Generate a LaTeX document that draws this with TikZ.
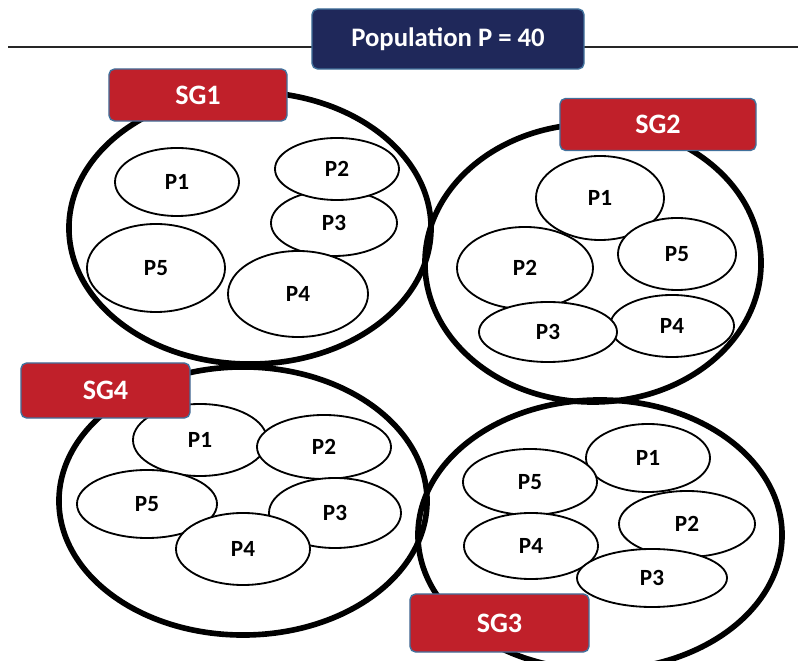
\documentclass[tikz,border=0pt]{standalone}
\usepackage{fontspec}
\setmainfont{Carlito}
\usepackage{tikz}
\usetikzlibrary{shapes.geometric, positioning}
\definecolor{SGRed}{HTML}{C0202A}
\definecolor{PopNavy}{HTML}{1F285A}
\definecolor{EdgeBlue}{HTML}{41719C}
\tikzset{
    popbox/.style={rectangle, rounded corners=4pt, draw=EdgeBlue, fill=PopNavy, line width=1pt,
        minimum width=6.8cm, minimum height=1.5cm, text=white, font=\fontsize{19}{22}\selectfont\bfseries},
    sgbox/.style={rectangle, rounded corners=4pt, draw=EdgeBlue, fill=SGRed, line width=1pt,
        minimum height=1.3cm, text=white, font=\fontsize{20}{24}\selectfont\bfseries},
    sgring/.style={ellipse, draw=black, line width=4pt, inner sep=0pt},
    pers/.style={ellipse, draw=black, fill=white, line width=1.3pt, inner sep=0pt,
        font=\fontsize{16.5}{19}\selectfont\bfseries},
    baseline/.style={line width=1.6pt, black!85},
}

\begin{document}
\begin{tikzpicture}[x=0.025cm, y=-0.025cm]
    \useasboundingbox (0,0) rectangle (798,661);
    \coordinate (linel) at (8,47);
    \coordinate (liner) at (798,47);
    \draw[baseline] (linel) -- (liner);

    \node[sgring, minimum width=9.05cm, minimum height=6.8cm] (ring1) at (250,228) {};
    \node[sgring, minimum width=8.4cm, minimum height=6.95cm] (ring2) at (593,263) {};
    \node[sgring, minimum width=9.2cm, minimum height=6.7cm] (ring4) at (243,501) {};
    \node[sgring, minimum width=9.1cm, minimum height=6.75cm] (ring3) at (600,535) {};

    \node[pers, minimum width=3.1cm, minimum height=1.7cm] (a1) at (177,182) {P1};
    \node[pers, minimum width=3.15cm, minimum height=1.65cm] (a3) at (334,223) {P3};
    \node[pers, minimum width=3.1cm, minimum height=1.55cm] (a2) at (337,169) {P2};
    \node[pers, minimum width=3.45cm, minimum height=2.2cm] (a5) at (156,268) {P5};
    \node[pers, minimum width=3.5cm, minimum height=2.15cm] (a4) at (298,294) {P4};

    \node[pers, minimum width=3.2cm, minimum height=2.1cm] (b1) at (600,198) {P1};
    \node[pers, minimum width=3.4cm, minimum height=2.05cm] (b2) at (525,268) {P2};
    \node[pers, minimum width=2.95cm, minimum height=1.8cm] (b5) at (677,254) {P5};
    \node[pers, minimum width=3.1cm, minimum height=1.55cm] (b4) at (672,326) {P4};
    \node[pers, minimum width=3.45cm, minimum height=1.5cm] (b3) at (548,332) {P3};

    \node[pers, minimum width=3.35cm, minimum height=1.8cm] (d1) at (200,440) {P1};
    \node[pers, minimum width=3.35cm, minimum height=1.6cm] (d2) at (324,447) {P2};
    \node[pers, minimum width=3.5cm, minimum height=1.7cm] (d5) at (147,504) {P5};
    \node[pers, minimum width=3.3cm, minimum height=1.75cm] (d3) at (335,513) {P3};
    \node[pers, minimum width=3.35cm, minimum height=1.8cm] (d4) at (243,549) {P4};

    \node[pers, minimum width=3.1cm, minimum height=1.7cm] (c1) at (648,458) {P1};
    \node[pers, minimum width=3.35cm, minimum height=1.65cm] (c5) at (530,482) {P5};
    \node[pers, minimum width=3.4cm, minimum height=1.65cm] (c2) at (687,524) {P2};
    \node[pers, minimum width=3.35cm, minimum height=1.65cm] (c4) at (531,546) {P4};
    \node[pers, minimum width=3.75cm, minimum height=1.45cm] (c3) at (652,578) {P3};

    \node[popbox] (pop) at (448,39) {Population P = 40};
    \node[sgbox, minimum width=4.45cm] (sg1) at (198,95) {SG1};
    \node[sgbox, minimum width=4.9cm] (sg2) at (658,124.5) {SG2};
    \node[sgbox, minimum width=4.225cm, minimum height=1.375cm] (sg4) at (105.5,390.5) {SG4};
    \node[sgbox, minimum width=4.475cm, minimum height=1.45cm] (sg3) at (499.5,623) {SG3};
\end{tikzpicture}
\end{document}
